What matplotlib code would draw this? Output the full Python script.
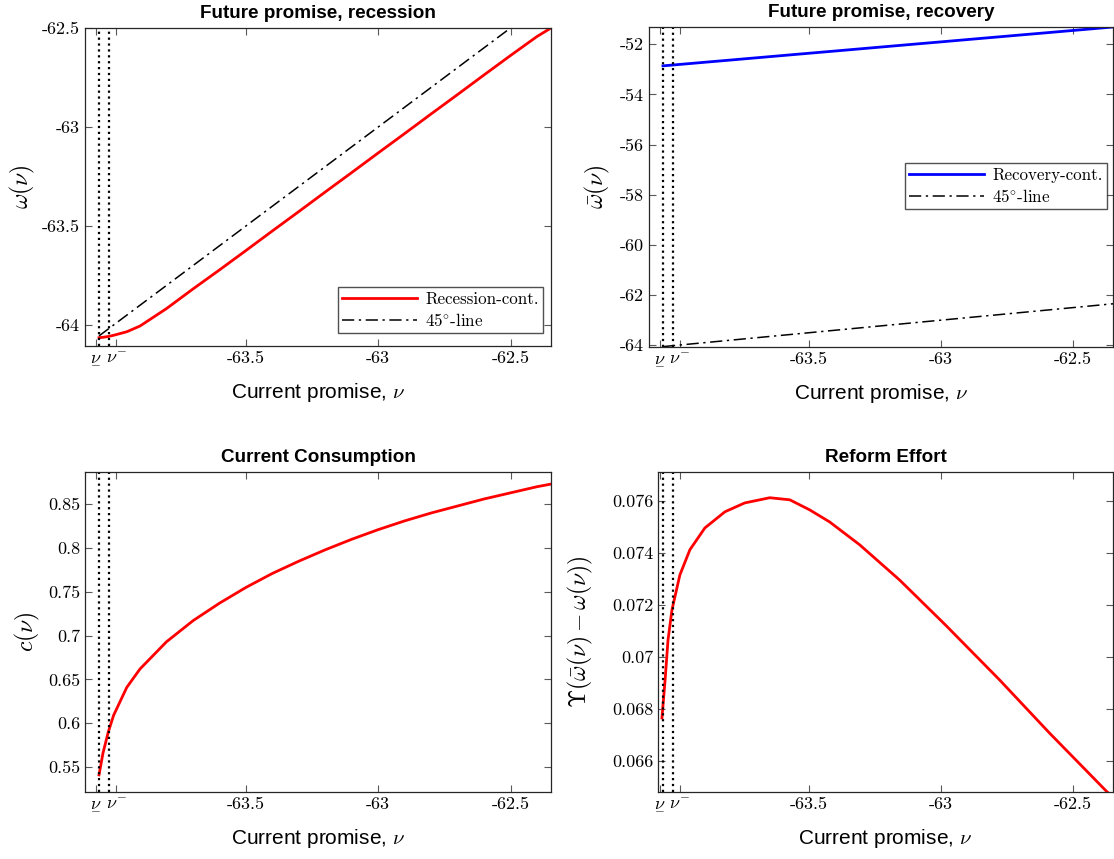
import numpy as np
import matplotlib
matplotlib.use('Agg')
import matplotlib.pyplot as plt

plt.rcParams['mathtext.fontset'] = 'cm'
plt.rcParams['axes.unicode_minus'] = False

# 共同的横轴网格 (current promise, nu)
nu = [-64.055, -64.04, -64.02, -64.0, -63.95, -63.9, -63.8, -63.7, -63.6, -63.5, -63.4,
      -63.3, -63.2, -63.1, -63.0, -62.9, -62.8, -62.7, -62.6, -62.5, -62.4, -62.347]

# 衰退期未来承诺 omega(nu)
omega_rec = [-64.064, -64.062, -64.058, -64.052, -64.034, -64.005, -63.917, -63.818, -63.722, -63.624, -63.525,
             -63.427, -63.328, -63.230, -63.131, -63.033, -62.934, -62.836, -62.737, -62.639, -62.543, -62.500]
# 复苏期未来承诺 bar-omega(nu)
omega_recov = [-52.860, -52.846, -52.828, -52.810, -52.765, -52.719, -52.629, -52.538, -52.447, -52.356, -52.266,
               -52.175, -52.084, -51.993, -51.903, -51.812, -51.721, -51.630, -51.540, -51.449, -51.358, -51.310]
# 当期消费 c(nu)
cons = [0.541, 0.566, 0.590, 0.609, 0.641, 0.662, 0.693, 0.717, 0.737, 0.755, 0.771,
        0.785, 0.798, 0.810, 0.821, 0.831, 0.840, 0.848, 0.856, 0.863, 0.870, 0.873]

# 改革努力 (自己的网格)
nu_eff = [-64.058, -64.046, -64.035, -64.020, -63.990, -63.952, -63.895, -63.819, -63.744, -63.649,
          -63.573, -63.497, -63.422, -63.308, -63.157, -62.983, -62.778, -62.589, -62.370, -62.347]
effort = [0.06765, 0.06912, 0.07065, 0.07181, 0.07315, 0.07412, 0.07496, 0.07558, 0.07592, 0.07612,
          0.07604, 0.07565, 0.07519, 0.07431, 0.07296, 0.07123, 0.06912, 0.06708, 0.06481, 0.06462]

nu_dot = [-64.055, -64.017]      # 虚线位置
nu_ticks = [-64.066, -63.991, -63.5, -63.0, -62.5]
nu_ticklabels = [r'$\underset{-}{\nu}$', r'$\nu^{-}$', '-63.5', '-63', '-62.5']

W, H = 1114, 859
fig = plt.figure(figsize=(W / 100, H / 100), dpi=100)


def px_axes(l, t, r, b):
    return fig.add_axes([l / W, 1 - b / H, (r - l) / W, (b - t) / H])


def style(ax, title, ylabel, yticks, yticklabels, xlim, ylim, ypad=4):
    ax.set_xlim(xlim)
    ax.set_ylim(ylim)
    for xd in nu_dot:
        ax.axvline(xd, color='k', ls=':', lw=1.6)
    ax.set_xticks(nu_ticks)
    ax.set_xticklabels(nu_ticklabels, fontfamily='cmr10', fontsize=13)
    ax.set_yticks(yticks)
    ax.set_yticklabels(yticklabels, fontfamily='cmr10', fontsize=13)
    ax.tick_params(direction='in', top=True, right=True, length=5, width=0.8, color='0.35')
    for s in ax.spines.values():
        s.set_color('0.15')
        s.set_linewidth(0.9)
    ax.set_title(title, fontfamily='Liberation Sans', fontweight='bold', fontsize=13.6, pad=7)
    ax.set_xlabel(r'Current promise, $\nu$', fontfamily='Liberation Sans', fontsize=15, labelpad=11)
    ax.set_ylabel(ylabel, fontsize=17, labelpad=ypad)


def add_legend(ax, l, t, aw, ah, ab):
    ax.legend(loc='upper left', bbox_to_anchor=(l / aw, (ab - t) / ah),
              prop={'family': 'cmr10', 'size': 12.2}, frameon=True, fancybox=False,
              edgecolor='0.15', borderpad=0.25, handlelength=4.4, handletextpad=0.5,
              labelspacing=0.3, borderaxespad=0)


xl = (-64.108, -62.347)
dd = (8, 3, 1.5, 3)

# 左上
ax1 = px_axes(85, 28, 551, 346)
ax1.plot(nu, omega_rec, color='r', lw=2, label='Recession-cont.')
ax1.plot(nu, nu, color='k', ls='-.', dashes=dd, lw=1.1, label=r'$45^{\circ}$-line')
style(ax1, 'Future promise, recession', r'$\omega(\nu)$',
      [-64, -63.5, -63, -62.5], ['-64', '-63.5', '-63', '-62.5'], xl, (-64.106, -62.5))
add_legend(ax1, 338 - 85, 287 - 28, 466, 318, 318)

# 右上
ax2 = px_axes(649, 27, 1113, 347)
ax2.plot(nu, omega_recov, color='b', lw=2, label='Recovery-cont.')
ax2.plot(nu, nu, color='k', ls='-.', dashes=dd, lw=1.1, label=r'$45^{\circ}$-line')
style(ax2, 'Future promise, recovery', r'$\bar{\omega}(\nu)$',
      [-64, -62, -60, -58, -56, -54, -52], ['-64', '-62', '-60', '-58', '-56', '-54', '-52'],
      xl, (-64.07, -51.31), ypad=6)
add_legend(ax2, 905 - 649, 163 - 27, 464, 320, 320)

# 左下
ax3 = px_axes(85, 472, 551, 792)
ax3.plot(nu, cons, color='r', lw=2)
style(ax3, 'Current Consumption', r'$c(\nu)$',
      [0.55, 0.6, 0.65, 0.7, 0.75, 0.8, 0.85], ['0.55', '0.6', '0.65', '0.7', '0.75', '0.8', '0.85'],
      xl, (0.5215, 0.8868))

# 右下
ax4 = px_axes(658, 472, 1113, 792)
ax4.plot(nu_eff, effort, color='r', lw=2)
style(ax4, 'Reform Effort', r'$\Upsilon(\bar{\omega}(\nu) - \omega(\nu))$',
      [0.066, 0.068, 0.07, 0.072, 0.074, 0.076], ['0.066', '0.068', '0.07', '0.072', '0.074', '0.076'],
      (-64.073, -62.347), (0.0648, 0.07711), ypad=12)

fig.savefig('out.png', dpi=100)
